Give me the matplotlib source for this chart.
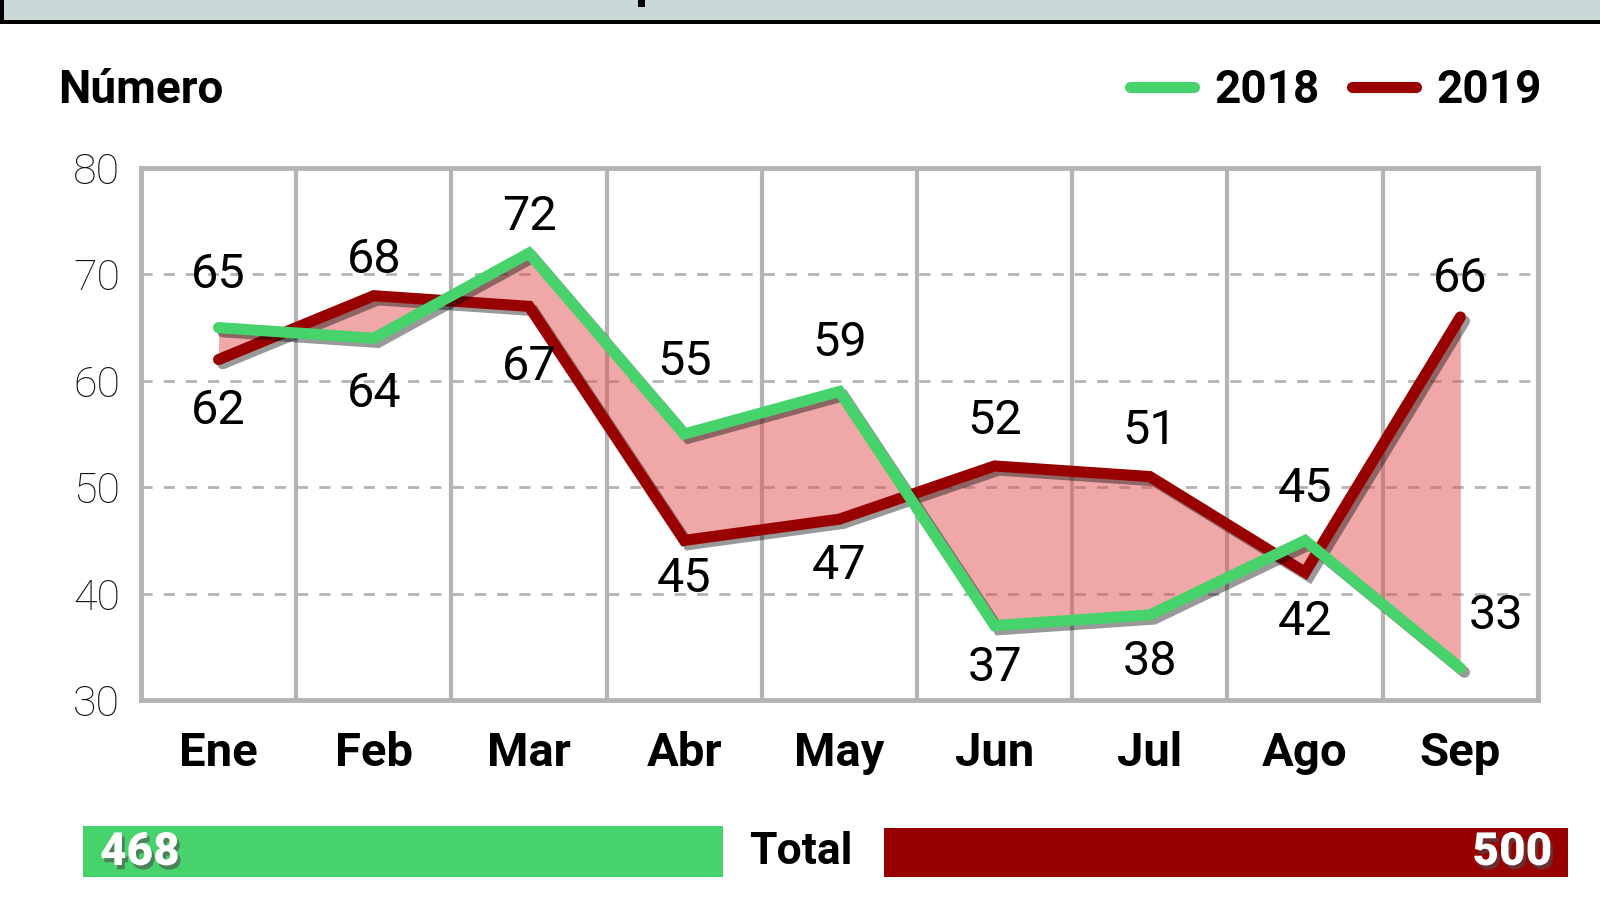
import matplotlib
matplotlib.use("Agg")
from matplotlib import pyplot as plt
from matplotlib import patheffects as pe
from matplotlib.patches import Rectangle
from matplotlib.lines import Line2D

months = ["Ene", "Feb", "Mar", "Abr", "May", "Jun", "Jul", "Ago", "Sep"]
y2018 = [65, 64, 72, 55, 59, 37, 38, 45, 33]
y2019 = [62, 68, 67, 45, 47, 52, 51, 42, 66]
total_2018 = 468
total_2019 = 500

# label placement (data units, relative to the point)
off18 = [4.9, -5.2, 3.4, 6.8, 4.6, -4.0, -4.4, 4.8, 4.9]
off19 = [-4.8, 3.4, -5.7, -3.6, -4.4, 4.2, 4.3, -4.7, 3.6]
dx18 = [0, 0, 0, 0, 0, 0, 0, 0, 0.23]

GREEN = "#46d36c"
RED = "#990000"
GRAY = "#b4b4b4"

plt.rcParams['font.family'] = ['Roboto', 'DejaVu Sans']

fig = plt.figure(figsize=(16, 9), dpi=100)
ax = fig.add_axes([0.0881, 0.2222, 0.8731, 0.5911])

x = list(range(len(months)))
ax.fill_between(x, y2018, y2019, interpolate=True, color=(225/255, 81/255, 81/255),
                alpha=0.5, linewidth=0, zorder=2)

shadow = [pe.SimpleLineShadow(offset=(3, -3), alpha=0.4, shadow_color='black'), pe.Normal()]
ax.plot(x, y2019, color=RED, lw=8, solid_capstyle='round', solid_joinstyle='miter',
        path_effects=shadow, zorder=3)
ax.plot(x, y2018, color=GREEN, lw=8, solid_capstyle='round', solid_joinstyle='miter',
        path_effects=shadow, zorder=4)

for i in x:
    ax.text(i + dx18[i], y2018[i] + off18[i], str(y2018[i]), ha='center', va='center',
            fontsize=35, color='black', zorder=5)
    ax.text(i, y2019[i] + off19[i], str(y2019[i]), ha='center', va='center',
            fontsize=35, color='black', zorder=5)

ax.set_xlim(-0.5, 8.5)
ax.set_ylim(30, 80)
ax.set_yticks([30, 40, 50, 60, 70, 80])
ax.set_xticks(x)
ax.set_xticklabels(months, fontsize=34, fontweight='bold')
ax.set_xticks([i - 0.5 for i in range(len(months) + 1)], minor=True)
ax.tick_params(axis='y', length=0, pad=15, labelsize=31, labelcolor='#111111')
ax.tick_params(axis='x', which='both', length=0, pad=22)
for lbl in ax.get_yticklabels():
    lbl.set_fontweight('light')
ax.grid(axis='y', which='major', linestyle=(0, (4, 4)), color=GRAY, lw=2, zorder=1)
ax.grid(axis='x', which='minor', linestyle='-', color=GRAY, lw=3, zorder=1)
ax.set_axisbelow(True)
for s in ax.spines.values():
    s.set_color(GRAY)
    s.set_linewidth(3.5)

# title/legend
fig.text(58 / 1600, 1 - 90 / 900, "Número", fontsize=33, fontweight='bold', va='center', ha='left')
handles = [Line2D([], [], color=GREEN, lw=8, solid_capstyle='round'),
           Line2D([], [], color=RED, lw=8, solid_capstyle='round')]
leg = fig.legend(handles, ["2018", "2019"], loc='center right', frameon=False, ncol=2,
                 bbox_to_anchor=(1542 / 1600, 1 - 90 / 900), prop={'size': 33, 'weight': 'bold'},
                 handlelength=1.4, handletextpad=0.45, columnspacing=0.7, borderpad=0, borderaxespad=0)

# top banner (cut off)
fig.patches.append(Rectangle((0, 1 - 24 / 900), 1, 24 / 900, transform=fig.transFigure,
                             facecolor='black', edgecolor='none'))
fig.patches.append(Rectangle((4 / 1600, 1 - 20 / 900), 1, 20 / 900, transform=fig.transFigure,
                             facecolor='#c9d9d8', edgecolor='none'))
fig.patches.append(Rectangle((638 / 1600, 1 - 7 / 900), 7 / 1600, 7 / 900, transform=fig.transFigure,
                             facecolor='black', edgecolor='none'))

# totals bar
fig.patches.append(Rectangle((83 / 1600, 1 - 877 / 900), 640 / 1600, 51 / 900,
                             transform=fig.transFigure, facecolor=GREEN, edgecolor='none'))
fig.patches.append(Rectangle((884 / 1600, 1 - 877 / 900), 684 / 1600, 49 / 900,
                             transform=fig.transFigure, facecolor=RED, edgecolor='none'))
txt_shadow = [pe.SimplePatchShadow(offset=(2, -3), alpha=0.6), pe.Normal()]
fig.text(100 / 1600, 1 - 852 / 900, str(total_2018), fontsize=33, fontweight='black', color='white',
         ha='left', va='center', path_effects=txt_shadow)
fig.text(1552 / 1600, 1 - 852 / 900, str(total_2019), fontsize=33, fontweight='black', color='white',
         ha='right', va='center', path_effects=txt_shadow)
fig.text(801 / 1600, 1 - 852 / 900, "Total", fontsize=32, fontweight='bold', color='black',
         ha='center', va='center')

fig.savefig("out.png", dpi=100)
